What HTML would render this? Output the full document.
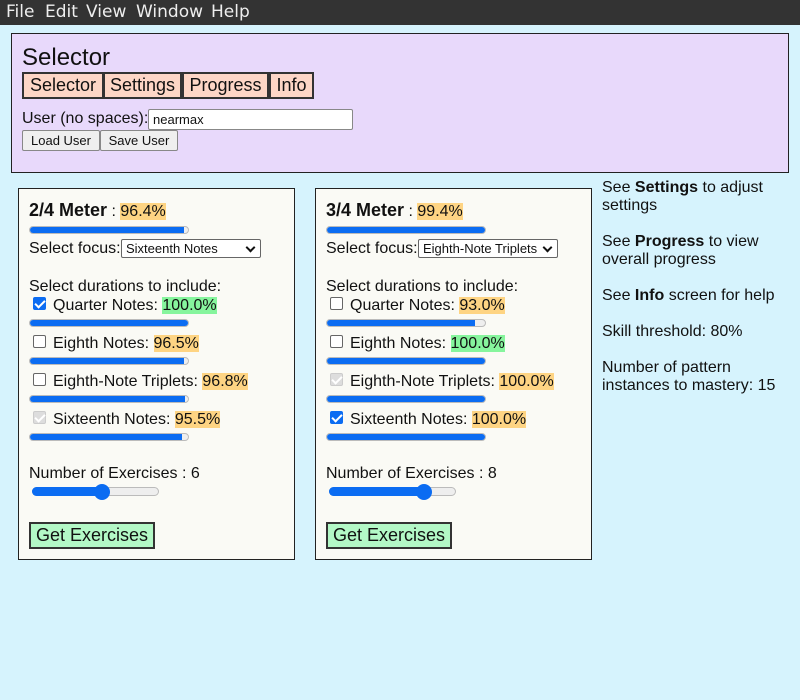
<!DOCTYPE html>
<html><head><style>
*{margin:0;padding:0;box-sizing:border-box}
body{width:800px;height:700px;background:#d6f3fd;font-family:"Liberation Sans",sans-serif;font-size:16px;color:#111;position:relative;overflow:hidden}
.a{position:absolute;white-space:nowrap;line-height:18px}
.menu{position:absolute;left:0;top:0;width:800px;height:25px;background:#333}
.menu span{position:absolute;top:2px;color:#eee;font-family:"DejaVu Sans",sans-serif;font-size:17px;line-height:20px}
.panel{position:absolute;left:11px;top:33px;width:778px;height:140px;background:#e8d9fb;border:1px solid #222}
.tab{position:absolute;top:72px;height:27px;background:#fdd6c6;border:2px solid #333;font-size:18px;line-height:22px;text-align:center}
.btn{position:absolute;height:21px;background:#efefef;border:1px solid #888;border-radius:2px;font-size:13px;line-height:19px;text-align:center}
.card{position:absolute;top:188px;width:277px;height:372px;background:#fafaf5;border:1px solid #222}
.bar{position:absolute;height:8px;width:160px;background:#eee;border:1px solid #bbb;border-radius:4px;overflow:hidden}
.bar i{position:absolute;left:0;top:-1px;height:8px;background:#0b6cf2;border-radius:4px 0 0 4px}
.hl{background:#fed483}
.gr{background:#86f59d}
.cb{position:absolute;width:13px;height:13px;border:1px solid #666;border-radius:2px;background:#fff}
.cb.on{background:#0b6cf2;border-color:#0b6cf2}
.cb.on:after{content:"";position:absolute;left:3px;top:0px;width:4px;height:8px;border:solid #fff;border-width:0 2px 2px 0;transform:rotate(45deg)}
.cb.dis{background:#ddd;border-color:#ccc}
.cb.dis:after{content:"";position:absolute;left:3px;top:0px;width:4px;height:8px;border:solid #fff;border-width:0 2px 2px 0;transform:rotate(45deg)}
.sel{position:absolute;height:19px;background:#fff;border:1px solid #666;border-radius:2px;font-size:13px;line-height:17px;padding-left:4px}
.sel:after{content:"";position:absolute;right:6px;top:4px;width:5px;height:5px;border:solid #111;border-width:0 2px 2px 0;transform:rotate(45deg)}
.track{position:absolute;height:9px;width:127px;background:#eee;border:1px solid #bbb;border-radius:5px}
.track i{position:absolute;left:-1px;top:-1px;height:9px;background:#0b6cf2;border-radius:5px 0 0 5px}
.thumb{position:absolute;width:16px;height:16px;border-radius:8px;background:#0b6cf2}
.get{position:absolute;top:522px;width:126px;height:27px;background:#b3f8c6;border:2px solid #333;font-size:18px;line-height:23px;text-align:center}
</style></head><body>
<div class="menu"><span style="left:6px">File</span><span style="left:45px">Edit</span><span style="left:86px">View</span><span style="left:136px">Window</span><span style="left:211px">Help</span></div>
<div class="panel"></div>
<div class="a" style="left:22px;top:44px;font-size:24px;line-height:28px">Selector</div>
<div class="tab" style="left:22px;width:82px">Selector</div>
<div class="tab" style="left:103px;width:79px">Settings</div>
<div class="tab" style="left:182px;width:87px">Progress</div>
<div class="tab" style="left:269px;width:45px">Info</div>
<div class="a" style="left:22px;top:110px">User (no spaces):</div>
<div style="position:absolute;left:148px;top:109px;width:205px;height:21px;background:#fff;border:1px solid #888;border-radius:2px;font-size:13px;line-height:19px;padding-left:4px">nearmax</div>
<div class="btn" style="left:22px;top:130px;width:78px">Load User</div>
<div class="btn" style="left:100px;top:130px;width:78px">Save User</div>

<!-- card 1 -->
<div class="card" style="left:18px"></div>
<div class="a" style="left:29px;top:201px"><b style="font-size:18px">2/4 Meter</b> : <span class="hl">96.4%</span></div>
<div class="bar" style="left:29px;top:226px"><i style="width:154px"></i></div>
<div class="a" style="left:29px;top:240px">Select focus:</div>
<div class="sel" style="left:121px;top:239px;width:140px">Sixteenth Notes</div>
<div class="a" style="left:29px;top:278px">Select durations to include:</div>
<div class="cb on" style="left:33px;top:297px"></div>
<div class="a" style="left:53px;top:297px">Quarter Notes: <span class="gr">100.0%</span></div>
<div class="bar" style="left:29px;top:319px"><i style="width:160px"></i></div>
<div class="cb" style="left:33px;top:335px"></div>
<div class="a" style="left:53px;top:335px">Eighth Notes: <span class="hl">96.5%</span></div>
<div class="bar" style="left:29px;top:357px"><i style="width:154px"></i></div>
<div class="cb" style="left:33px;top:373px"></div>
<div class="a" style="left:53px;top:373px">Eighth-Note Triplets: <span class="hl">96.8%</span></div>
<div class="bar" style="left:29px;top:395px"><i style="width:155px"></i></div>
<div class="cb dis" style="left:33px;top:411px"></div>
<div class="a" style="left:53px;top:411px">Sixteenth Notes: <span class="hl">95.5%</span></div>
<div class="bar" style="left:29px;top:433px"><i style="width:152px"></i></div>
<div class="a" style="left:29px;top:465px">Number of Exercises : 6</div>
<div class="track" style="left:32px;top:487px"><i style="width:70px"></i></div>
<div class="thumb" style="left:94px;top:484px"></div>
<div class="get" style="left:29px">Get Exercises</div>

<!-- card 2 -->
<div class="card" style="left:315px"></div>
<div class="a" style="left:326px;top:201px"><b style="font-size:18px">3/4 Meter</b> : <span class="hl">99.4%</span></div>
<div class="bar" style="left:326px;top:226px"><i style="width:159px"></i></div>
<div class="a" style="left:326px;top:240px">Select focus:</div>
<div class="sel" style="left:418px;top:239px;width:140px">Eighth-Note Triplets</div>
<div class="a" style="left:326px;top:278px">Select durations to include:</div>
<div class="cb" style="left:330px;top:297px"></div>
<div class="a" style="left:350px;top:297px">Quarter Notes: <span class="hl">93.0%</span></div>
<div class="bar" style="left:326px;top:319px"><i style="width:148px"></i></div>
<div class="cb" style="left:330px;top:335px"></div>
<div class="a" style="left:350px;top:335px">Eighth Notes: <span class="gr">100.0%</span></div>
<div class="bar" style="left:326px;top:357px"><i style="width:160px"></i></div>
<div class="cb dis" style="left:330px;top:373px"></div>
<div class="a" style="left:350px;top:373px">Eighth-Note Triplets: <span class="hl">100.0%</span></div>
<div class="bar" style="left:326px;top:395px"><i style="width:160px"></i></div>
<div class="cb on" style="left:330px;top:411px"></div>
<div class="a" style="left:350px;top:411px">Sixteenth Notes: <span class="hl">100.0%</span></div>
<div class="bar" style="left:326px;top:433px"><i style="width:160px"></i></div>
<div class="a" style="left:326px;top:465px">Number of Exercises : 8</div>
<div class="track" style="left:329px;top:487px"><i style="width:95px"></i></div>
<div class="thumb" style="left:416px;top:484px"></div>
<div class="get" style="left:326px">Get Exercises</div>

<!-- right info -->
<div class="a" style="left:602px;top:179px">See <b>Settings</b> to adjust<br>settings</div>
<div class="a" style="left:602px;top:233px">See <b>Progress</b> to view<br>overall progress</div>
<div class="a" style="left:602px;top:287px">See <b>Info</b> screen for help</div>
<div class="a" style="left:602px;top:323px">Skill threshold: 80%</div>
<div class="a" style="left:602px;top:359px">Number of pattern<br>instances to mastery: 15</div>
</body></html>
